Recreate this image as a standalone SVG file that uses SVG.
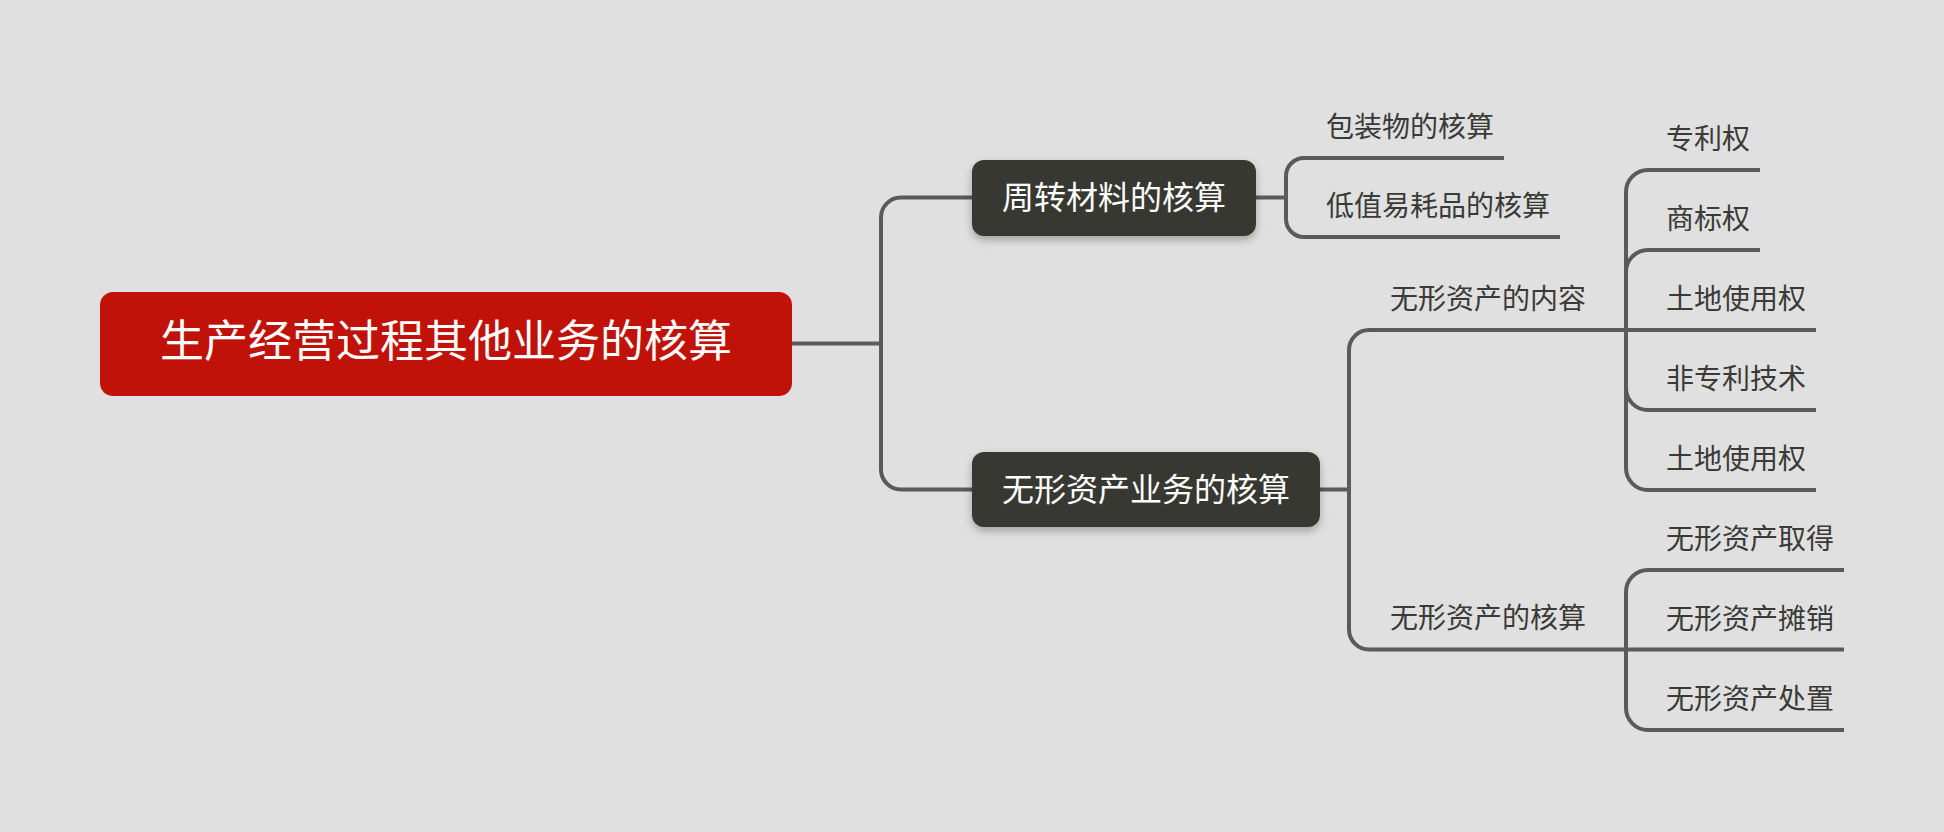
<svg xmlns="http://www.w3.org/2000/svg" width="1944" height="832" viewBox="0 0 1944 832">
<defs>
<filter id="sh" x="-10%" y="-20%" width="120%" height="160%">
<feDropShadow dx="0" dy="4" stdDeviation="4" flood-color="#000" flood-opacity="0.28"/>
</filter>
<style>
.c{fill:none;stroke:#5a5a5a;stroke-width:4;stroke-linecap:butt}
.t{font-family:"Noto Sans CJK SC","Noto Sans",sans-serif}
.lbl{font-size:28px;fill:#3a3a36}
.nt{font-size:32px;fill:#ffffff;text-anchor:middle}
.dark{fill:#393933}
</style>
</defs>
<rect width="1944" height="832" fill="#e0e0e0"/>
<g id="connectors">
<path class="c" d="M792,343.5 H881"/>
<path class="c" d="M972,197.5 H901 A20,20 0 0 0 881,217.5 V469.5 A20,20 0 0 0 901,489.5 H972"/>
<path class="c" d="M1256,197.5 H1286"/>
<path class="c" d="M1504,158 H1304 A18,18 0 0 0 1286,176 V219 A18,18 0 0 0 1304,237 H1560"/>
<path class="c" d="M1320,489.5 H1349"/>
<path class="c" d="M1816,330 H1369 A20,20 0 0 0 1349,350 V629.5 A20,20 0 0 0 1369,649.5 H1844"/>
<path class="c" d="M1760,170 H1648 A22,22 0 0 0 1626,192 V468 A22,22 0 0 0 1648,490 H1816"/>
<path class="c" d="M1760,250 H1648 A22,22 0 0 0 1626,272"/>
<path class="c" d="M1626,388 A22,22 0 0 0 1648,410 H1816"/>
<path class="c" d="M1844,570 H1648 A22,22 0 0 0 1626,592 V708 A22,22 0 0 0 1648,730 H1844"/>
</g>
<g id="root">
<rect x="100" y="292" width="692" height="104" rx="13" fill="#c1120a"/>
<text class="t" x="446" y="357" font-size="44" fill="#ffffff" text-anchor="middle">生产经营过程其他业务的核算</text>
</g>
<g id="node-zhouzhuan">
<rect class="dark" x="972" y="160" width="284" height="76" rx="12" filter="url(#sh)"/>
<text class="t nt" x="1114" y="209">周转材料的核算</text>
</g>
<g id="node-wuxing">
<rect class="dark" x="972" y="452" width="348" height="75" rx="12" filter="url(#sh)"/>
<text class="t nt" x="1146" y="500.5">无形资产业务的核算</text>
</g>
<g id="label-baozhuang"><text class="t lbl" x="1326" y="137">包装物的核算</text></g>
<g id="label-dizhi"><text class="t lbl" x="1326" y="216">低值易耗品的核算</text></g>
<g id="label-neirong"><text class="t lbl" x="1390" y="309">无形资产的内容</text></g>
<g id="label-hesuan"><text class="t lbl" x="1390" y="628">无形资产的核算</text></g>
<g id="label-zhuanli"><text class="t lbl" x="1666" y="149">专利权</text></g>
<g id="label-shangbiao"><text class="t lbl" x="1666" y="229">商标权</text></g>
<g id="label-tudi1"><text class="t lbl" x="1666" y="309">土地使用权</text></g>
<g id="label-feizhuanli"><text class="t lbl" x="1666" y="389">非专利技术</text></g>
<g id="label-tudi2"><text class="t lbl" x="1666" y="469">土地使用权</text></g>
<g id="label-qude"><text class="t lbl" x="1666" y="549">无形资产取得</text></g>
<g id="label-tanxiao"><text class="t lbl" x="1666" y="629">无形资产摊销</text></g>
<g id="label-chuzhi"><text class="t lbl" x="1666" y="709">无形资产处置</text></g>
</svg>
